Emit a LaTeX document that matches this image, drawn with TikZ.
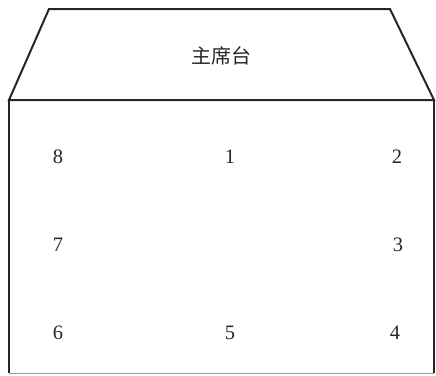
\documentclass[tikz,border=0pt]{standalone}
\usepackage{fontspec}
\setmainfont{Liberation Serif}
\newfontfamily\cjk{Noto Sans CJK SC}
\begin{document}
\begin{tikzpicture}[x=1pt,y=-1pt,
  wall/.style={draw=black!85,line width=2pt,line join=miter},
  seat/.style={font=\fontsize{20.5}{24}\selectfont,text=black!85,inner sep=0pt}]
\useasboundingbox (0,0) rectangle (436,375);
\coordinate (tl) at (49,9);
\coordinate (tr) at (390,9);
\coordinate (bl) at (9,100);
\coordinate (br) at (434,100);
\coordinate (ll) at (9,373);
\coordinate (lr) at (434,373);
\draw[wall] (bl) -- (tl) -- (tr) -- (br) -- cycle;
\draw[wall] (bl) -- (ll);
\draw[wall] (br) -- (lr);
\draw[draw=black!40,line width=1pt] (ll) -- (lr);
\node[inner sep=0pt,text=black!85,font=\cjk\fontsize{20}{24}\selectfont] (t) at (221,56) {主席台};
\node[seat] (s8) at (58,157) {8};
\node[seat] (s1) at (230,157) {1};
\node[seat] (s2) at (397,157) {2};
\node[seat] (s7) at (58,245) {7};
\node[seat] (s3) at (398,245) {3};
\node[seat] (s6) at (58,333) {6};
\node[seat] (s5) at (230,333) {5};
\node[seat] (s4) at (395,333) {4};
\end{tikzpicture}
\end{document}
